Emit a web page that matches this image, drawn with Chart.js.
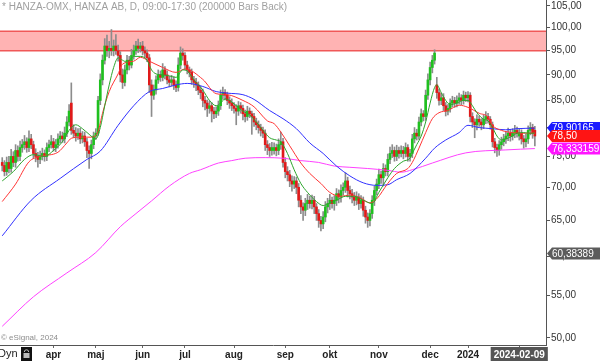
<!DOCTYPE html>
<html>
<head>
<meta charset="utf-8">
<script src="https://cdn.jsdelivr.net/npm/chart.js@4.4.1/dist/chart.umd.min.js"></script>
<style>
  html, body { margin: 0; padding: 0; background: #fff; }
  canvas { display: block; }
</style>
</head>
<body>
<canvas id="chart" width="600" height="361"></canvas>
<script>
// daily bars, HANZA AB, early March 2023 -> 2024-02-09 (index = trading day)
const open = [
  74.0,73.5,72.5,74.0,73.0,75.0,74.0,76.0,75.0,76.5, 77.0,77.5,76.5,78.0,77.0,75.5,75.0,74.5,75.0,75.5,
  75.0,76.5,77.0,77.5,76.5,77.0,78.0,78.5,78.0,79.0, 81.0,84.5,79.5,79.0,78.5,79.0,78.0,78.5,77.5,76.0,
  75.5,77.0,78.5,79.0,85.0,89.0,93.0,96.0,95.0,95.5, 95.0,96.0,95.0,94.0,90.0,88.5,91.0,93.0,92.0,94.0,
  95.0,96.0,95.5,96.0,95.0,94.5,93.5,88.0,86.0,87.0, 89.0,90.0,89.5,91.0,90.0,89.0,88.5,89.0,88.0,87.5,
  92.0,94.5,94.0,92.0,91.0,90.5,89.0,88.5,88.0,87.0, 86.5,85.0,84.5,83.5,84.0,83.0,82.5,83.0,84.0,86.0,
  86.5,86.0,85.0,84.5,84.0,83.5,83.0,84.0,83.5,82.5, 82.0,83.0,82.5,82.0,81.0,80.5,80.0,79.5,79.0,77.0,
  76.5,76.0,76.0,76.5,76.0,77.0,77.5,74.0,72.5,72.0, 71.0,70.5,71.0,70.0,68.0,67.0,66.5,67.5,68.0,67.5,
  68.0,67.0,66.0,65.0,64.5,65.5,67.0,67.5,68.0,67.5, 68.0,69.0,68.5,69.5,70.0,71.0,69.5,69.0,68.5,68.0,
  68.5,67.5,68.0,66.5,65.5,65.0,66.0,68.0,69.5,70.5, 72.0,71.5,73.0,72.5,74.5,75.5,76.0,75.0,76.0,75.5,
  76.0,75.5,76.5,75.0,75.5,78.0,79.0,78.5,81.0,82.5, 82.0,86.0,89.0,91.5,93.0,88.0,86.5,85.0,85.5,84.0,
  83.0,83.5,84.5,85.0,84.5,85.0,85.5,85.0,86.0,85.5, 86.0,82.0,81.0,80.5,81.5,81.0,80.5,81.5,82.0,81.5,
  80.5,77.5,76.5,76.0,77.0,77.5,78.0,78.5,79.0,78.5, 79.0,79.5,78.5,79.0,78.0,77.5,78.0,79.5,80.0,79.5
];
const high = [
  74.8,74.3,74.9,75.0,76.2,75.8,77.0,76.8,77.6,77.9, 78.6,78.2,79.4,78.8,77.6,76.3,75.7,75.9,76.4,76.1,
  77.3,77.8,78.6,78.1,77.9,78.9,79.3,79.2,80.1,82.0, 84.2,88.4,80.5,80.0,79.8,79.9,79.3,79.2,78.1,76.8,
  77.8,79.2,79.8,85.8,90.2,94.1,97.6,98.4,97.0,99.6, 97.3,98.5,96.2,94.8,91.2,92.0,94.0,93.8,95.3,96.2,
  97.0,97.5,96.8,97.0,95.8,95.2,94.2,89.0,88.0,89.8, 91.0,90.8,92.3,91.7,90.8,89.7,89.9,89.6,88.8,93.5,
  95.8,95.4,94.6,92.8,91.6,91.2,89.7,89.3,88.6,87.7, 87.2,85.8,85.1,84.9,84.6,83.7,83.8,84.9,87.0,87.6,
  87.1,86.6,85.7,85.3,84.6,84.2,84.8,84.6,84.1,83.2, 83.9,83.6,83.0,82.6,81.7,81.2,80.6,80.1,79.6,77.7,
  77.2,77.4,77.3,77.1,78.0,79.2,78.1,74.8,73.3,72.7, 71.8,71.7,71.6,70.6,68.7,67.6,68.3,68.9,68.6,68.8,
  68.6,67.5,66.6,65.6,66.3,67.8,68.3,68.9,68.5,68.7, 69.8,69.6,70.4,70.7,72.3,71.6,70.2,69.7,69.2,69.3,
  69.0,68.7,68.5,67.1,66.1,66.6,68.7,70.2,71.3,72.9, 72.6,73.8,73.6,75.4,76.6,77.0,76.6,76.9,76.6,76.8,
  76.7,77.3,77.0,76.2,78.8,80.0,79.7,81.9,83.4,83.1, 87.0,90.2,92.6,94.0,95.2,89.5,87.2,86.4,86.3,84.6,
  84.2,85.3,85.8,85.6,85.9,86.4,86.1,86.8,86.6,86.7, 86.5,82.7,81.6,82.3,82.1,81.6,82.3,82.9,82.6,82.0,
  81.0,78.1,77.1,77.7,78.3,78.8,79.3,79.9,79.6,79.8, 80.4,80.1,79.7,79.6,78.6,78.8,80.3,80.9,80.6,80.2
];
const low = [
  72.6,71.8,71.9,72.3,72.4,73.3,73.2,74.2,74.3,75.7, 76.2,75.7,75.8,76.3,74.7,74.1,73.2,73.8,74.4,74.2,
  74.3,75.8,76.4,75.9,75.8,76.4,77.3,77.4,77.3,78.4, 80.3,78.8,78.2,77.6,77.9,77.2,77.3,76.7,74.8,73.0,
  74.6,76.3,77.9,78.6,84.2,88.0,92.2,93.8,93.5,94.0, 93.9,94.2,92.8,88.6,87.3,87.8,90.2,91.0,91.4,93.2,
  94.2,94.6,94.7,94.1,93.6,92.7,86.5,82.0,85.2,86.2, 88.3,88.7,88.8,89.2,88.2,87.6,87.8,87.1,86.7,86.8,
  91.2,93.0,91.1,90.2,89.6,88.1,87.5,86.9,86.1,85.3, 83.8,83.2,82.0,82.6,81.0,81.6,81.8,82.2,83.3,85.2,
  85.1,84.2,83.5,83.1,82.6,80.5,82.2,82.6,81.4,81.0, 81.3,81.8,78.8,80.2,79.6,79.0,78.5,78.2,76.0,75.3,
  75.0,75.2,75.4,75.1,75.3,76.2,73.2,71.5,71.0,70.1, 69.4,69.8,69.0,67.0,66.0,65.0,65.7,66.6,66.8,66.7,
  66.0,65.0,64.0,63.5,63.8,64.8,66.1,66.6,66.8,66.5, 67.2,67.6,67.7,68.8,69.2,68.5,68.2,67.6,67.2,67.3,
  66.6,66.8,65.6,64.6,64.0,64.2,65.3,67.2,68.8,69.8, 70.6,70.2,71.8,71.8,73.8,74.8,74.2,74.3,74.7,74.9,
  74.6,74.9,74.2,74.2,74.8,77.3,77.8,77.9,80.3,81.2, 81.3,85.2,88.0,90.4,92.2,85.4,84.1,84.2,83.1,82.1,
  82.3,82.8,83.8,83.7,83.8,84.3,84.2,84.3,84.8,84.7, 81.0,80.0,78.2,79.6,80.2,79.6,79.8,80.7,80.8,79.7,
  76.6,75.6,75.0,75.2,76.2,76.8,77.2,77.7,77.6,77.8, 78.2,78.3,77.8,77.1,76.4,76.6,77.2,78.7,78.1,76.8
];
const close = [
  73.5,72.5,74.0,73.0,75.0,74.0,76.0,75.0,76.5,77.0, 77.5,76.5,78.0,77.0,75.5,75.0,74.5,75.0,75.5,75.0,
  76.5,77.0,77.5,76.5,77.0,78.0,78.5,78.0,79.0,81.0, 83.0,79.5,79.0,78.5,79.0,78.0,78.5,77.5,76.0,75.5,
  77.0,78.5,79.0,85.0,89.0,93.0,96.0,95.0,95.5,95.0, 96.0,95.0,94.0,90.0,88.5,91.0,93.0,92.0,94.0,95.0,
  96.0,95.5,96.0,95.0,94.5,93.5,88.0,86.0,87.0,89.0, 90.0,89.5,91.0,90.0,89.0,88.5,89.0,88.0,87.5,92.0,
  94.5,94.0,92.0,91.0,90.5,89.0,88.5,88.0,87.0,86.5, 85.0,84.5,83.5,84.0,83.0,82.5,83.0,84.0,86.0,86.5,
  86.0,85.0,84.5,84.0,83.5,83.0,84.0,83.5,82.5,82.0, 83.0,82.5,82.0,81.0,80.5,80.0,79.5,79.0,77.0,76.5,
  76.0,76.5,76.5,76.0,77.0,77.5,74.0,72.5,72.0,71.0, 70.5,71.0,70.0,68.0,67.0,66.5,67.5,68.0,67.5,68.0,
  67.0,66.0,65.0,64.5,65.5,67.0,67.5,68.0,67.5,68.0, 69.0,68.5,69.5,70.0,71.0,69.5,69.0,68.5,68.0,68.5,
  67.5,68.0,66.5,65.5,65.0,66.0,68.0,69.5,70.5,72.0, 71.5,73.0,72.5,74.5,75.5,76.0,75.0,76.0,75.5,76.0,
  75.5,76.5,75.0,75.5,78.0,79.0,78.5,81.0,82.5,82.0, 86.0,89.0,91.5,93.0,94.5,86.5,85.0,85.5,84.0,83.0,
  83.5,84.5,85.0,84.5,85.0,85.5,85.0,86.0,85.5,86.0, 82.0,81.0,80.5,81.5,81.0,80.5,81.5,82.0,81.5,80.5,
  77.5,76.5,76.0,77.0,77.5,78.0,78.5,79.0,78.5,79.0, 79.5,79.0,79.0,78.0,77.5,78.0,79.5,80.0,79.0,78.5
];

// moving averages: [bar index, value]
const maGreen = [[0,71.0],[5,72.5],[10,74.5],[14,75.3],[19,75.0],[23,76.0],[27,77.5],[30,79.5],[33,80.5],[36,79.8],
  [39,78.8],[42,78.0],[44,80.0],[46,84.0],[48,88.0],[50,91.5],[52,93.5],[54,93.0],[56,92.6],[59,93.8],[62,93.8],
  [65,93.0],[67,91.0],[69,90.2],[72,90.0],[75,89.8],[78,89.5],[81,91.0],[83,90.8],[86,89.0],[90,87.0],[93,85.0],
  [96,84.0],[98,84.5],[100,85.3],[102,85.0],[105,84.0],[108,83.0],[111,82.3],[114,81.0],[117,79.5],[120,78.2],
  [123,77.8],[125,77.5],[128,75.5],[131,72.8],[134,70.6],[137,69.2],[141,67.8],[144,67.2],[147,67.6],[150,68.0],
  [154,68.6],[158,68.6],[162,68.0],[166,67.5],[169,69.2],[173,71.5],[176,73.0],[180,74.2],[183,74.7],[184,75.5],
  [186,77.0],[188,78.5],[190,81.0],[192,84.5],[194,87.5],[195,88.0],[197,86.5],[199,85.0],[201,84.2],[204,84.5],
  [207,85.0],[209,85.0],[211,84.0],[213,82.7],[216,81.5],[218,81.2],[220,80.0],[222,78.5],[224,77.8],[226,78.0],
  [229,78.5],[231,79.0],[234,79.1],[236,79.0],[239,79.0]];
const maRed = [[0,67.8],[6,70.5],[12,74.1],[17,75.0],[25,75.7],[29,77.3],[31,78.1],[35,78.3],[40,78.3],[43,79.3],
  [45,82.6],[48,86.7],[52,90.2],[54,92.2],[59,92.8],[62,93.6],[66,92.8],[72,91.5],[78,90.5],[82,91.2],[90,89.1],
  [96,86.3],[101,86.1],[108,85.0],[113,83.8],[119,81.2],[122,80.7],[125,79.2],[129,76.8],[134,73.9],[138,72.2],
  [143,70.6],[147,69.2],[152,68.6],[156,68.8],[161,68.3],[165,67.6],[168,68.2],[173,70.6],[177,72.2],[182,73.0],
  [184,74.0],[187,76.4],[190,79.1],[193,81.6],[196,82.7],[200,83.1],[205,84.1],[209,83.7],[214,82.6],[218,81.9],
  [220,80.4],[224,79.5],[229,79.1],[233,79.0],[239,79.0]];
const maBlue = [[0,62.8],[13,68.0],[26,71.4],[38,74.5],[44,75.9],[52,80.4],[59,84.0],[66,86.7],[72,87.3],[78,88.0],
  [83,88.3],[90,87.7],[96,86.7],[101,86.4],[108,86.1],[113,85.2],[120,83.1],[126,81.6],[132,79.8],[138,77.3],
  [144,75.5],[150,73.4],[156,71.8],[162,70.7],[168,70.3],[173,70.4],[177,71.2],[183,72.2],[190,74.7],[194,76.4],
  [199,77.8],[205,79.1],[209,80.4],[214,80.0],[220,79.8],[226,79.6],[231,79.8],[239,79.9]];
const maMagenta = [[0,51.3],[14,54.8],[29,57.8],[42,60.5],[53,64.1],[60,66.0],[67,67.9],[75,70.2],[84,72.2],
  [89,72.8],[97,73.9],[103,74.3],[109,74.7],[118,74.8],[126,74.7],[134,74.3],[142,74.0],[149,73.4],[156,73.2],
  [164,73.0],[173,72.7],[179,72.4],[184,72.8],[193,73.9],[208,75.6],[226,76.1],[239,76.33]];

const monthTicks = [23, 42, 63, 82, 104, 127, 147, 169, 192, 209, 232];
const monthLabels = ['apr', 'maj', 'jun', 'jul', 'aug', 'sep', 'okt', 'nov', 'dec', '2024', '2024-02-09'];
const priceTicks = [50, 55, 60, 65, 70, 75, 80, 85, 90, 95, 100, 105];
const zoneLow = 95.0, zoneHigh = 99.2;
const flags = [
  { v: 79.90165, text: '79,90165', bg: '#1a1aff' },
  { v: 78.50, text: '78,50', bg: '#ff1414' },
  { v: 76.333159, text: '76,333159', bg: '#ff14ff' },
  { v: 60.38389, text: '60,38389', bg: '#5c5c5c' }
];

const FONT = "'Liberation Sans', Arial, sans-serif";
const fmt = v => v.toFixed(2).replace('.', ',');
const pts = arr => arr.map(p => ({ x: p[0], y: p[1] }));

const overlays = {
  id: 'overlays',
  beforeDatasetsDraw(chart) {
    const { ctx, chartArea: a, scales: { y } } = chart;
    const t = y.getPixelForValue(zoneHigh), b = y.getPixelForValue(zoneLow);
    ctx.save();
    ctx.fillStyle = '#ffb3b3';
    ctx.fillRect(a.left, t, a.right - a.left, b - t);
    ctx.strokeStyle = '#f05858';
    ctx.lineWidth = 1.5;
    ctx.beginPath();
    ctx.moveTo(a.left, t); ctx.lineTo(a.right, t);
    ctx.moveTo(a.left, b); ctx.lineTo(a.right, b);
    ctx.stroke();
    ctx.restore();
  },
  afterDraw(chart) {
    const { ctx, chartArea: a, scales: { y } } = chart;
    ctx.save();
    ctx.textBaseline = 'middle';
    ctx.textAlign = 'left';
    ctx.fillStyle = '#a0a0a0';
    ctx.font = '10px ' + FONT;
    ctx.fillText('* HANZA-OMX, HANZA AB, D, 09:00-17:30 (200000 Bars Back)', 2, 7);
    ctx.fillStyle = '#8c8c8c';
    ctx.font = '8px ' + FONT;
    ctx.fillText('\u00a9 eSignal, 2024', 1, a.bottom - 7);

    // price flags on the right axis
    ctx.font = '10px ' + FONT;
    flags.forEach(f => {
      const py = y.getPixelForValue(f.v);
      ctx.fillStyle = f.bg;
      ctx.beginPath();
      ctx.moveTo(a.right + 1, py);
      ctx.lineTo(a.right + 6, py - 6);
      ctx.lineTo(600, py - 6);
      ctx.lineTo(600, py + 6);
      ctx.lineTo(a.right + 6, py + 6);
      ctx.closePath();
      ctx.fill();
      ctx.fillStyle = '#fff';
      ctx.fillText(f.text, a.right + 6, py + 0.5);
    });

    // bottom-left "Dyn" and lock button
    const by = a.bottom;
    ctx.fillStyle = '#222';
    ctx.font = '11px ' + FONT;
    ctx.fillText('Dyn', -2, by + 9);
    ctx.fillStyle = '#111';
    ctx.fillRect(21, by + 2, 11, 14);
    ctx.strokeStyle = '#bbb';
    ctx.lineWidth = 1;
    ctx.beginPath();
    ctx.arc(26.5, by + 7, 2.2, Math.PI, 0);
    ctx.stroke();
    ctx.fillStyle = '#bbb';
    ctx.fillRect(23.5, by + 8, 6, 5);
    ctx.restore();
  }
};

new Chart(document.getElementById('chart'), {
  type: 'bar',
  data: {
    datasets: [
      { type: 'line', data: pts(maGreen), borderColor: '#2ca52c', borderWidth: 1, pointRadius: 0, cubicInterpolationMode: 'monotone', order: 0 },
      { type: 'line', data: pts(maRed), borderColor: '#ff3434', borderWidth: 1, pointRadius: 0, cubicInterpolationMode: 'monotone', order: 0 },
      { type: 'line', data: pts(maBlue), borderColor: '#3030ff', borderWidth: 1, pointRadius: 0, cubicInterpolationMode: 'monotone', order: 0 },
      { type: 'line', data: pts(maMagenta), borderColor: '#ff40ff', borderWidth: 1, pointRadius: 0, cubicInterpolationMode: 'monotone', order: 0 },
      {
        data: close.map((c, i) => ({ x: i, y: [open[i], c] })),
        backgroundColor: close.map((c, i) => c >= open[i] ? '#1fc01f' : '#e01a1a'),
        barThickness: 2, minBarLength: 1, grouped: false, order: 1
      },
      {
        data: close.map((c, i) => ({ x: i, y: [low[i], high[i]] })),
        backgroundColor: '#8c8c8c',
        barThickness: 1, grouped: false, order: 2
      }
    ]
  },
  options: {
    responsive: false,
    animation: false,
    events: [],
    layout: { padding: 0 },
    plugins: { legend: { display: false }, tooltip: { enabled: false } },
    scales: {
      x: {
        type: 'linear',
        min: -1,
        max: 244,
        offset: false,
        grid: { drawOnChartArea: false, offset: false, tickLength: 3, color: '#666' },
        border: { color: '#555' },
        afterBuildTicks: s => { s.ticks = monthTicks.map(v => ({ value: v })); },
        afterFit: s => { s.height = 16; s.paddingLeft = 0; s.paddingRight = 0; },
        ticks: {
          autoSkip: false,
          maxRotation: 0,
          padding: 1,
          font: { family: FONT, size: 10, weight: 'bold' },
          color: c => c.index === monthTicks.length - 1 ? '#fff' : '#222',
          showLabelBackdrop: c => c.index === monthTicks.length - 1,
          backdropColor: '#555',
          backdropPadding: { x: 3, y: 2 },
          callback: v => monthLabels[monthTicks.indexOf(v)]
        }
      },
      y: {
        type: 'logarithmic',
        position: 'right',
        min: 49.2,
        max: 106.4,
        grid: { drawOnChartArea: false, tickLength: 4, color: '#555' },
        border: { color: '#555' },
        afterBuildTicks: s => { s.ticks = priceTicks.map(v => ({ value: v })); },
        afterFit: s => { s.width = 54; s.paddingTop = 0; s.paddingBottom = 0; },
        ticks: {
          autoSkip: false,
          padding: 1,
          font: { family: FONT, size: 10 },
          color: '#333',
          callback: v => fmt(v)
        }
      }
    }
  },
  plugins: [overlays]
});
</script>
</body>
</html>
